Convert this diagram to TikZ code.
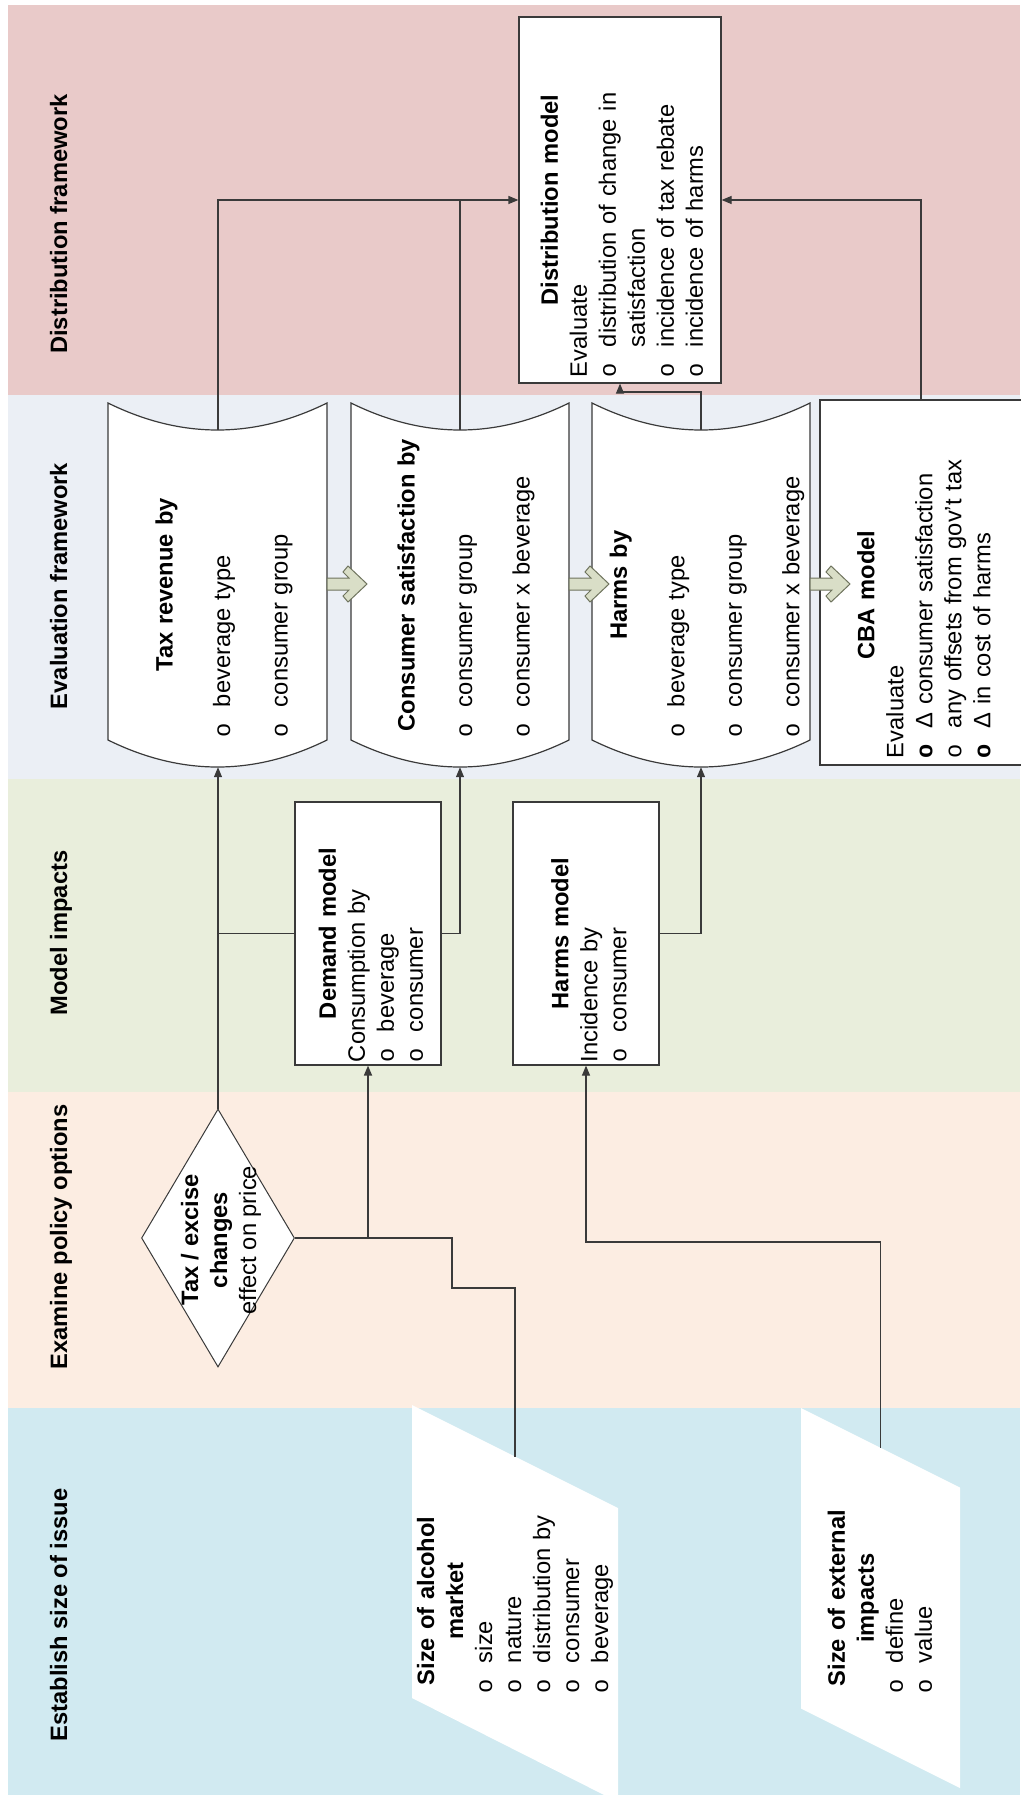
\documentclass[tikz,border=0pt]{standalone}
\usepackage{fontspec}
\setmainfont{Liberation Sans}
\newfontfamily\bulfont{Liberation Mono}
\usetikzlibrary{shapes.geometric,arrows.meta,calc}
\definecolor{bandpink}{HTML}{E9CAC9}
\definecolor{bandeval}{HTML}{EBEFF5}
\definecolor{bandgreen}{HTML}{E9EEDC}
\definecolor{bandpeach}{HTML}{FCEDE2}
\definecolor{bandblue}{HTML}{D1EAF1}
\definecolor{linegrey}{HTML}{3A3A3A}
\definecolor{arrfill}{HTML}{D9DEC7}
\definecolor{arrdraw}{HTML}{6F745E}
\newcommand\dtxt{\fontsize{23.7}{29}\selectfont}
\newcommand\etxt{\fontsize{23.7}{57.5}\selectfont}
\newcommand\myb[1]{\mbox{\makebox[30pt][l]{\bulfont o}#1}\par}
\newcommand\mybb[1]{\mbox{\makebox[30pt][l]{\bulfont\bfseries o}#1}\par}
\newcommand\mytitle[1]{{\centering\bfseries #1\par}}
\newcommand\blockarrow[1]{\draw[blockarr] (#1,578) -- ++(22,0) -- ++(-6,-6) -- ++(5,-6) -- ++(19,18) -- ++(-19,18) -- ++(-5,-6) -- ++(6,-6) -- (#1,590) -- cycle;}
\begin{document}
\begin{tikzpicture}[x=1pt,y=-1pt,
  conn/.style={draw=linegrey,line width=1.2pt},
  arr/.style={conn,-{Triangle[length=10pt,width=8pt]}},
  boxnode/.style={draw=linegrey,line width=1.2pt,fill=white,inner sep=0pt},
  anchornode/.style={inner sep=0pt,minimum width=219pt,minimum height=364pt},
  rtext/.style={rotate=90,inner sep=0pt,font=\dtxt},
  evaltext/.style={rotate=90,inner sep=0pt,text width=304pt,font=\etxt},
  bandlabel/.style={rotate=90,anchor=base,inner sep=0pt,font=\dtxt\bfseries},
  shapeline/.style={draw=linegrey,line width=1.2pt,fill=white},
  blockarr/.style={draw=arrdraw,line width=1pt,fill=arrfill,line join=miter},
]
\useasboundingbox (0,0) rectangle (1020,1795);
% bands
\fill[bandpink] (8,5) rectangle (1020,395);
\fill[bandeval] (8,395) rectangle (1020,779);
\fill[bandgreen] (8,779) rectangle (1020,1092);
\fill[bandpeach] (8,1092) rectangle (1020,1408);
\fill[bandblue] (8,1408) rectangle (1020,1795);
% band labels
\node[bandlabel] (lab1) at (67,224) {Distribution framework};
\node[bandlabel] (lab2) at (67,586) {Evaluation framework};
\node[bandlabel] (lab3) at (67,933) {Model impacts};
\node[bandlabel] (lab4) at (67,1237) {Examine policy options};
\node[bandlabel] (lab5) at (67,1615) {Establish size of issue};
% input parallelograms
\fill[white] (412,1405) -- (618,1508) -- (618,1802) -- (412,1698) -- cycle;
\fill[white] (801,1408) -- (960,1487.5) -- (960,1788) -- (801,1708.5) -- cycle;
\coordinate (alctop) at (515,1456.5);
\coordinate (exttop) at (880.5,1447.5);
% evaluation shapes
\path[shapeline] (108,403) -- (108,740) .. controls (181,776) and (254,776) .. (327,740) -- (327,403) .. controls (254,439) and (181,439) .. (108,403) -- cycle;
\path[shapeline] (351,403) -- (351,740) .. controls (424,776) and (496,776) .. (569,740) -- (569,403) .. controls (496,439) and (424,439) .. (351,403) -- cycle;
\path[shapeline] (592,403) -- (592,740) .. controls (665,776) and (737,776) .. (810,740) -- (810,403) .. controls (737,439) and (665,439) .. (592,403) -- cycle;
\node[anchornode] (taxrev) at (218,585) {};
\node[anchornode] (cs) at (460,585) {};
\node[anchornode] (harmsby) at (701,585) {};
% boxes
\node[boxnode,minimum width=202pt,minimum height=366pt] (dist) at (620,200) {};
\node[boxnode,minimum width=210pt,minimum height=365pt] (cba) at (925,582.5) {};
\node[boxnode,minimum width=146pt,minimum height=263pt] (demand) at (368,933.5) {};
\node[boxnode,minimum width=146pt,minimum height=263pt] (harmsmodel) at (586,933.5) {};
\node[diamond,draw=linegrey,line width=1pt,fill=white,inner sep=0pt,minimum width=153pt,minimum height=258pt] (dia) at (218,1238) {};
% connectors
\draw[arr] (dia.north) -- (taxrev.south);
\draw[conn] (dia.north |- demand.west) -- (demand.west);
\draw[arr] (demand.east) -| (cs.south);
\draw[arr] (harmsmodel.east) -| (harmsby.south);
\draw[conn] (dia.east) -- (demand.south |- dia.east);
\draw[conn] (alctop) |- (452,1288) -- (452,1238) -- (demand.south |- dia.east);
\draw[arr,line width=1.7pt] (demand.south |- dia.east) -- (demand.south);
\draw[arr] (exttop) -- (880.5,1242) -| (harmsmodel.south);
\draw[arr] ([yshift=-27pt]taxrev.north) |- (dist.west);
\draw[conn] ([yshift=-27pt]cs.north) -- (cs.north |- dist.west);
\draw[arr] ([yshift=-27pt]harmsby.north) -- (harmsby.north |- 0,392) -| (dist.south);
\draw[arr] ([xshift=-4pt]cba.north) |- (dist.east);
% block arrows
\blockarrow{327}
\blockarrow{569}
\blockarrow{810}
% texts
\node[rtext,align=center] (diatext) at (221,1240) {\textbf{Tax / excise}\\\textbf{changes}\\effect on price};
\node[rtext,text width=257pt] (demandtext) at (371,933.5) {\mytitle{Demand model}Consumption by\par\myb{beverage}\myb{consumer}};
\node[rtext,text width=257pt] (harmstext) at (589,933.5) {\mytitle{Harms model}Incidence by\par\myb{consumer}};
\node[rtext,text width=354pt] (disttext) at (622,200) {\mytitle{Distribution model}Evaluate\par\myb{distribution of change in}\hspace*{30pt}satisfaction\par\myb{incidence of tax rebate}\myb{incidence of harms}};
\node[rtext,text width=326pt] (cbatext) at (924,595) {\mytitle{CBA model}Evaluate\par\mybb{Δ consumer satisfaction}\myb{any offsets from gov’t tax}\mybb{Δ in cost of harms}};
\node[evaltext] (taxtext) at (224,585) {\mytitle{Tax revenue by}\myb{beverage type}\myb{consumer group}};
\node[evaltext] (cstext) at (466,585) {\mytitle{Consumer satisfaction by}\myb{consumer group}\myb{consumer x beverage}};
\node[evaltext] (hbtext) at (707,585) {\mytitle{Harms by}\myb{beverage type}\myb{consumer group}\myb{consumer x beverage}};
\node[rtext,text width=184pt] (alctext) at (515,1601) {{\centering\bfseries Size of alcohol\\market\par}\myb{size}\myb{nature}\myb{distribution by}\myb{consumer}\myb{beverage}};
\node[rtext,text width=190pt] (exttext) at (880,1598) {{\centering\bfseries Size of external\\impacts\par}\myb{define}\myb{value}};
\end{tikzpicture}
\end{document}
